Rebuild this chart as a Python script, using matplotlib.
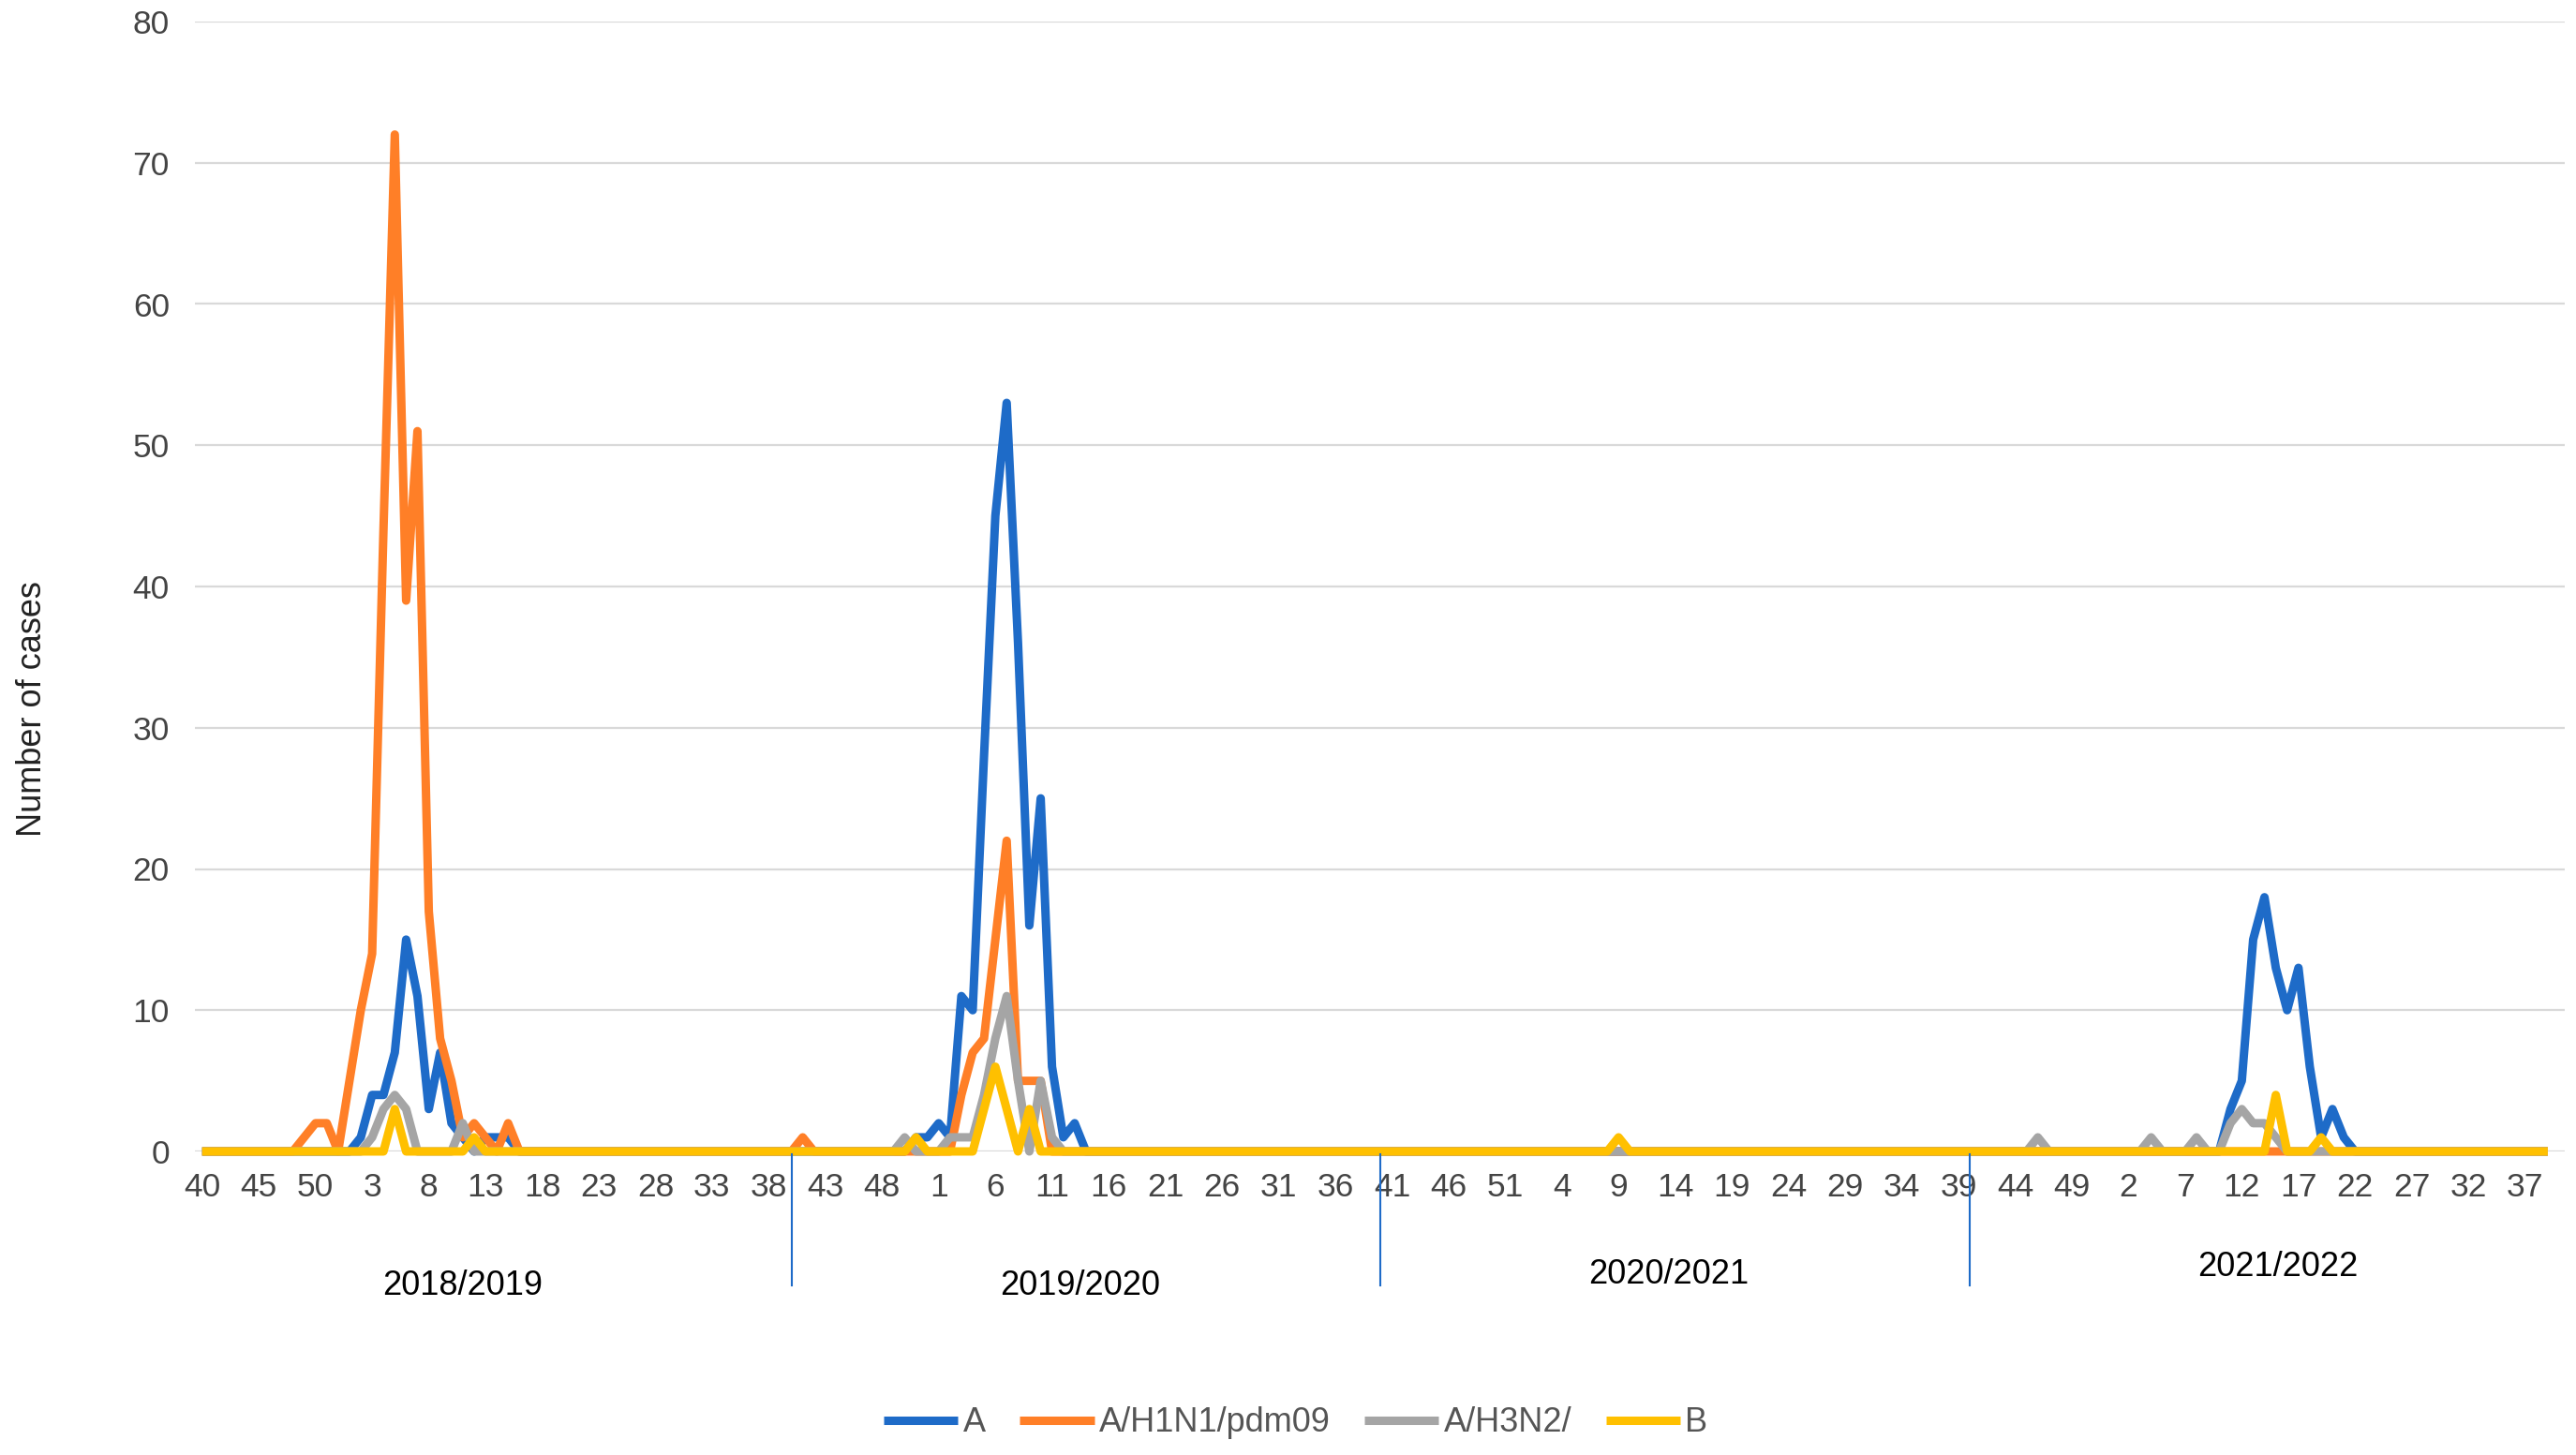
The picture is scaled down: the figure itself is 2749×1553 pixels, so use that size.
import matplotlib
matplotlib.use('Agg')
import matplotlib.pyplot as plt
from matplotlib.lines import Line2D
from matplotlib.transforms import blended_transform_factory
import numpy as np

plt.rcParams['font.family'] = ['Liberation Sans', 'DejaVu Sans']

# ---------------- data ----------------
series_names = ['A', 'A/H1N1/pdm09', 'A/H3N2/', 'B']
series_colors = ['#1E6BC8', '#FF7F27', '#A5A5A5', '#FFC000']

seasons = ['2018/2019', '2019/2020', '2020/2021', '2021/2022']

week_labels = ['40', '45', '50', '3', '8', '13', '18', '23', '28', '33', '38',
               '43', '48', '1', '6', '11', '16', '21', '26', '31', '36',
               '41', '46', '51', '4', '9', '14', '19', '24', '29', '34', '39',
               '44', '49', '2', '7', '12', '17', '22', '27', '32', '37']

# weekly counts, week 40 .. week 39 of each season (52 weeks)
A_1819 = [0, 0, 0, 0, 0, 0, 0, 0, 0, 0, 0, 0, 0, 0, 1, 4, 4, 7, 15, 11,
          3, 7, 2, 1, 0, 1, 1, 1, 0, 0, 0, 0, 0, 0, 0, 0, 0, 0, 0, 0,
          0, 0, 0, 0, 0, 0, 0, 0, 0, 0, 0, 0]
A_1920 = [0, 0, 0, 0, 0, 0, 0, 0, 0, 0, 0, 1, 1, 2, 1, 11, 10, 28, 45, 53,
          36, 16, 25, 6, 1, 2, 0, 0, 0, 0, 0, 0, 0, 0, 0, 0, 0, 0, 0, 0,
          0, 0, 0, 0, 0, 0, 0, 0, 0, 0, 0, 0]
A_2021 = [0, 0, 0, 0, 0, 0, 0, 0, 0, 0, 0, 0, 0, 0, 0, 0, 0, 0, 0, 0,
          0, 0, 0, 0, 0, 0, 0, 0, 0, 0, 0, 0, 0, 0, 0, 0, 0, 0, 0, 0,
          0, 0, 0, 0, 0, 0, 0, 0, 0, 0, 0, 0]
A_2122 = [0, 0, 0, 0, 0, 0, 0, 0, 0, 0, 0, 0, 0, 0, 0, 0, 0, 0, 0, 0,
          0, 0, 0, 3, 5, 15, 18, 13, 10, 13, 6, 1, 3, 1, 0, 0, 0, 0, 0, 0,
          0, 0, 0, 0, 0, 0, 0, 0, 0, 0, 0, 0]

H1N1_1819 = [0, 0, 0, 0, 0, 0, 0, 0, 0, 1, 2, 2, 0, 5, 10, 14, 44, 72, 39, 51,
             17, 8, 5, 1, 2, 1, 0, 2, 0, 0, 0, 0, 0, 0, 0, 0, 0, 0, 0, 0,
             0, 0, 0, 0, 0, 0, 0, 0, 0, 0, 0, 0]
H1N1_1920 = [0, 1, 0, 0, 0, 0, 0, 0, 0, 0, 0, 0, 0, 0, 0, 4, 7, 8, 15, 22,
             5, 5, 5, 0, 0, 0, 0, 0, 0, 0, 0, 0, 0, 0, 0, 0, 0, 0, 0, 0,
             0, 0, 0, 0, 0, 0, 0, 0, 0, 0, 0, 0]
H1N1_2021 = [0, 0, 0, 0, 0, 0, 0, 0, 0, 0, 0, 0, 0, 0, 0, 0, 0, 0, 0, 0,
             0, 0, 0, 0, 0, 0, 0, 0, 0, 0, 0, 0, 0, 0, 0, 0, 0, 0, 0, 0,
             0, 0, 0, 0, 0, 0, 0, 0, 0, 0, 0, 0]
H1N1_2122 = [0, 0, 0, 0, 0, 0, 0, 0, 0, 0, 0, 0, 0, 0, 0, 0, 0, 0, 0, 0,
             0, 0, 0, 0, 0, 0, 0, 0, 0, 0, 0, 0, 0, 0, 0, 0, 0, 0, 0, 0,
             0, 0, 0, 0, 0, 0, 0, 0, 0, 0, 0, 0]

H3N2_1819 = [0, 0, 0, 0, 0, 0, 0, 0, 0, 0, 0, 0, 0, 0, 0, 1, 3, 4, 3, 0,
             0, 0, 0, 2, 0, 0, 0, 0, 0, 0, 0, 0, 0, 0, 0, 0, 0, 0, 0, 0,
             0, 0, 0, 0, 0, 0, 0, 0, 0, 0, 0, 0]
H3N2_1920 = [0, 0, 0, 0, 0, 0, 0, 0, 0, 0, 1, 0, 0, 0, 1, 1, 1, 4, 8, 11,
             5, 0, 5, 1, 0, 0, 0, 0, 0, 0, 0, 0, 0, 0, 0, 0, 0, 0, 0, 0,
             0, 0, 0, 0, 0, 0, 0, 0, 0, 0, 0, 0]
H3N2_2021 = [0, 0, 0, 0, 0, 0, 0, 0, 0, 0, 0, 0, 0, 0, 0, 0, 0, 0, 0, 0,
             0, 0, 0, 0, 0, 0, 0, 0, 0, 0, 0, 0, 0, 0, 0, 0, 0, 0, 0, 0,
             0, 0, 0, 0, 0, 0, 0, 0, 0, 0, 0, 0]
H3N2_2122 = [0, 0, 0, 0, 0, 0, 1, 0, 0, 0, 0, 0, 0, 0, 0, 0, 1, 0, 0, 0,
             1, 0, 0, 2, 3, 2, 2, 1, 0, 0, 0, 0, 0, 0, 0, 0, 0, 0, 0, 0,
             0, 0, 0, 0, 0, 0, 0, 0, 0, 0, 0, 0]

B_1819 = [0, 0, 0, 0, 0, 0, 0, 0, 0, 0, 0, 0, 0, 0, 0, 0, 0, 3, 0, 0,
          0, 0, 0, 0, 1, 0, 0, 0, 0, 0, 0, 0, 0, 0, 0, 0, 0, 0, 0, 0,
          0, 0, 0, 0, 0, 0, 0, 0, 0, 0, 0, 0]
B_1920 = [0, 0, 0, 0, 0, 0, 0, 0, 0, 0, 0, 1, 0, 0, 0, 0, 0, 3, 6, 3,
          0, 3, 0, 0, 0, 0, 0, 0, 0, 0, 0, 0, 0, 0, 0, 0, 0, 0, 0, 0,
          0, 0, 0, 0, 0, 0, 0, 0, 0, 0, 0, 0]
B_2021 = [0, 0, 0, 0, 0, 0, 0, 0, 0, 0, 0, 0, 0, 0, 0, 0, 0, 0, 0, 0,
          0, 1, 0, 0, 0, 0, 0, 0, 0, 0, 0, 0, 0, 0, 0, 0, 0, 0, 0, 0,
          0, 0, 0, 0, 0, 0, 0, 0, 0, 0, 0, 0]
B_2122 = [0, 0, 0, 0, 0, 0, 0, 0, 0, 0, 0, 0, 0, 0, 0, 0, 0, 0, 0, 0,
          0, 0, 0, 0, 0, 0, 0, 4, 0, 0, 0, 1, 0, 0, 0, 0, 0, 0, 0, 0,
          0, 0, 0, 0, 0, 0, 0, 0, 0, 0, 0, 0]

series_A = A_1819 + A_1920 + A_2021 + A_2122
series_H1N1 = H1N1_1819 + H1N1_1920 + H1N1_2021 + H1N1_2122
series_H3N2 = H3N2_1819 + H3N2_1920 + H3N2_2021 + H3N2_2122
series_B = B_1819 + B_1920 + B_2021 + B_2122
all_series = [series_A, series_H1N1, series_H3N2, series_B]
season_lengths = [len(A_1819), len(A_1920), len(A_2021), len(A_2122)]

# ---------------- layout ----------------
FW, FH = 2749, 1553
fig = plt.figure(figsize=(FW / 100, FH / 100), dpi=100)
fig.patch.set_facecolor('white')
ax = fig.add_axes([208 / FW, 1 - 1229 / FH, 2529 / FW, 1206 / FH])

x = np.arange(len(series_A))
handles = []
for vals, col, name in zip(all_series, series_colors, series_names):
    ln, = ax.plot(x, vals, color=col, lw=6.5, solid_joinstyle='round',
                  solid_capstyle='butt', clip_on=False, label=name)
    handles.append(ln)

ax.set_xlim(-0.64, 208.5)
ax.set_ylim(0, 80)
ax.set_yticks(np.arange(0, 81, 10))
ax.set_xticks(np.arange(0, 5 * len(week_labels), 5))
ax.set_xticklabels(week_labels)
ax.tick_params(axis='x', length=0, pad=16, labelsize=25.5, labelcolor='#444444')
ax.tick_params(axis='y', length=0, pad=19.5, labelsize=25.5, labelcolor='#444444')
ax.grid(axis='y', color='#D9D9D9', lw=1.6)
ax.grid(axis='x', visible=False)
ax.set_axisbelow(True)
for sp in ax.spines.values():
    sp.set_visible(False)

trans = blended_transform_factory(ax.transData, fig.transFigure)
bounds = np.cumsum(season_lengths)[:-1]
for b in bounds:
    ax.add_line(Line2D([b, b], [1 - 1232 / FH, 1 - 1372 / FH], transform=trans,
                       color='#1E6BC8', lw=1.5, clip_on=False))

season_x = [23.0, 77.5, 129.4, 183.2]
season_ypx = [1372, 1372, 1360, 1352]
for name, sx, sy in zip(seasons, season_x, season_ypx):
    ax.text(sx, 1 - sy / FH, name, transform=trans, ha='center', va='center',
            fontsize=26, color='#000000')

fig.text(35 / FW, 1 - 757 / FH, 'Number of cases', rotation=90,
         ha='center', va='center', fontsize=26, color='#222222')

fig.legend(handles, series_names, loc='center',
           bbox_to_anchor=(0.503, 1 - 1519 / FH), ncol=4, frameon=False,
           fontsize=26, handlelength=2.2, handletextpad=0.15,
           columnspacing=1.0, labelcolor='#555555')

fig.savefig('out.png', dpi=100, facecolor='white')
